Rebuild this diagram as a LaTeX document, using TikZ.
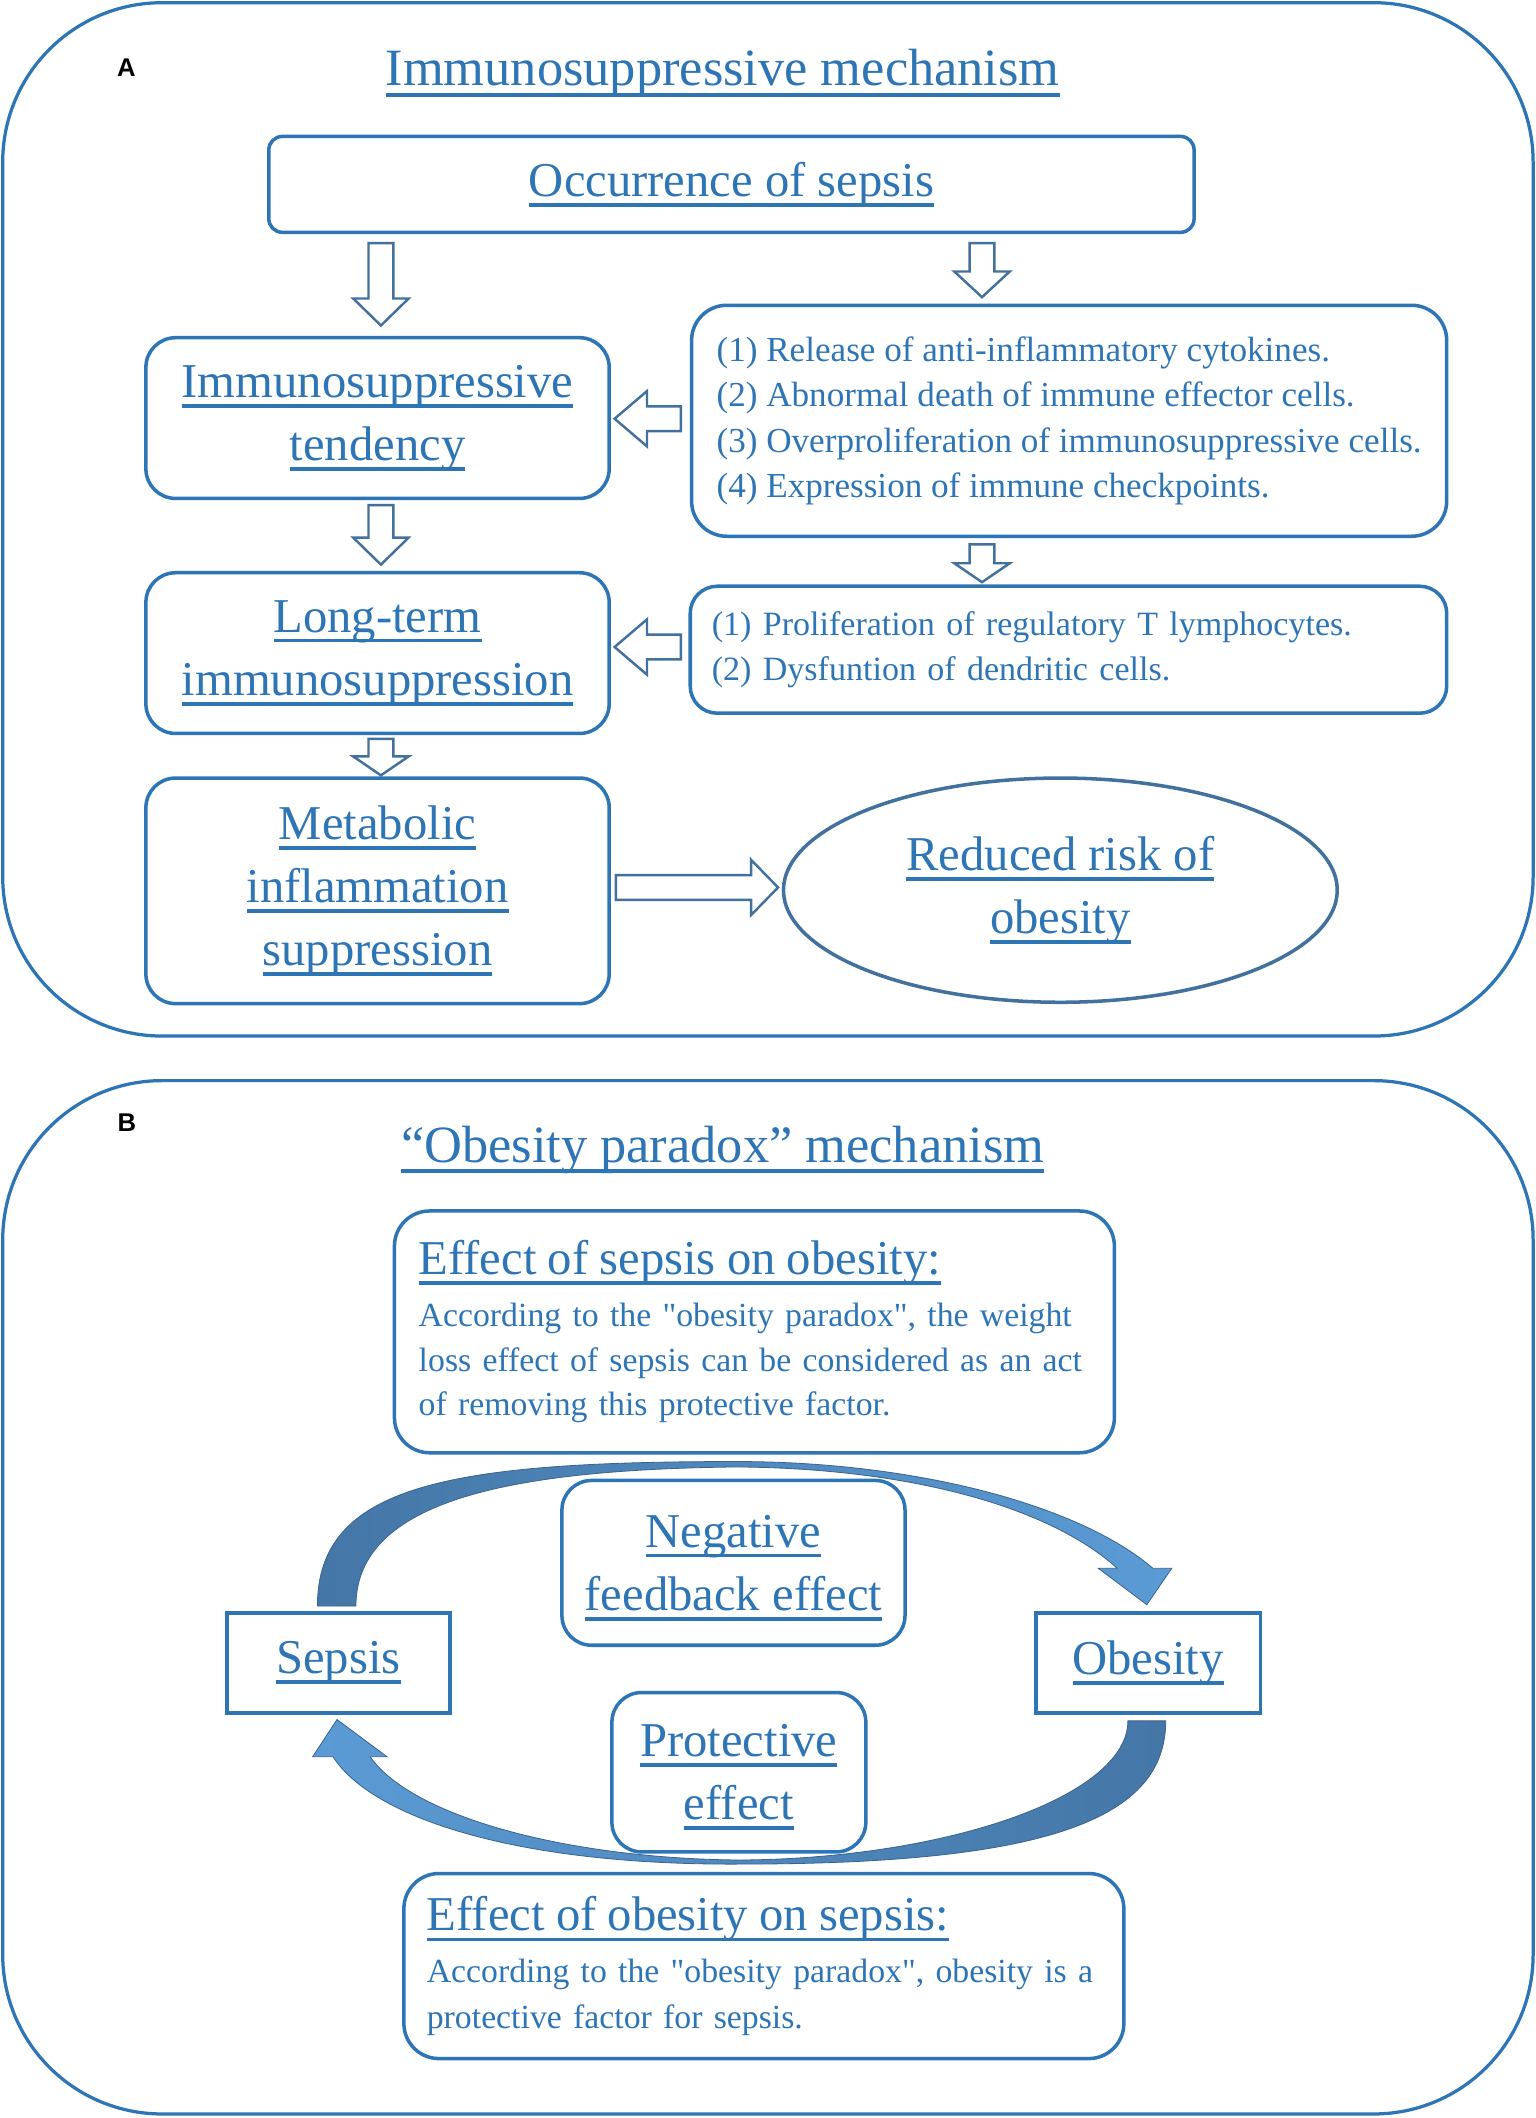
\documentclass[tikz,border=0pt]{standalone}
\usepackage{fontspec}
\setmainfont{Liberation Serif}[Ligatures=TeXOff]
\newfontfamily\labelfont{Liberation Sans}
\usetikzlibrary{calc,shapes.geometric}
\definecolor{tblue}{RGB}{46,117,182}
\definecolor{adark}{RGB}{65,113,156}
\definecolor{arcdark}{RGB}{68,118,166}
\definecolor{arclight}{RGB}{91,155,213}
\newsavebox\ulbox
\newcommand\ulx[1]{\sbox\ulbox{#1}\rlap{\smash{\rule[-0.21em]{\wd\ulbox}{0.075em}}}\usebox\ulbox}
\newcommand\qq{\symbol{34}}
\newcommand\headfont{\fontsize{18}{23.4}\selectfont}
\newcommand\bodyfont{\fontsize{13}{16.8}\selectfont}
\newcommand\titlefont{\fontsize{19.4}{24}\selectfont}
\newcommand\arrsh{4.6pt}
\newcommand\arrhh{10.25pt}
\newcommand\arrdown[3]{\draw[barrow] ($(#1)+(-\arrsh,0)$) -- ($(#2)+(-\arrsh,#3)$) -- ($(#2)+(-\arrhh,#3)$) -- (#2) -- ($(#2)+(\arrhh,#3)$) -- ($(#2)+(\arrsh,#3)$) -- ($(#1)+(\arrsh,0)$) -- cycle;}
\newcommand\arrhoriz[3]{\draw[barrow] ($(#1)+(0,\arrsh)$) -- ($(#2)+(#3,\arrsh)$) -- ($(#2)+(#3,\arrhh)$) -- (#2) -- ($(#2)+(#3,-\arrhh)$) -- ($(#2)+(#3,-\arrsh)$) -- ($(#1)+(0,-\arrsh)$) -- cycle;}
\begin{document}
\begin{tikzpicture}[x=0.5pt,y=-0.5pt,
  box/.style={draw=tblue, line width=1.3pt, fill=white, rounded corners=#1, inner sep=0pt, align=center, text=tblue, font=\headfont},
  box/.default=10pt,
  sqbox/.style={draw=tblue, line width=1.3pt, fill=white, inner sep=0pt, align=center, text=tblue, font=\headfont},
  barrow/.style={draw=adark, line width=0.9pt, fill=white, line join=miter},
  panel/.style={draw=tblue, line width=1.2pt, rounded corners=59pt},
  plabel/.style={font=\labelfont\bfseries\fontsize{9.5}{11}\selectfont, text=black, inner sep=0pt},
  ptitle/.style={font=\titlefont, text=tblue, inner sep=0pt},
  arcarrow/.style={draw=arcdark!85!black, line width=0.3pt}
]
\useasboundingbox (0,0) rectangle (1137,1568);
\fill[white] (0,0) rectangle (1137,1568);

% ---------- Panel A ----------
\draw[panel] (2,2) rectangle (1135,767);
\node[plabel] (labA) at (93.5,50) {A};
\node[ptitle] (titA) at (535,54) {\ulx{Immunosuppressive mechanism}};

\node[box=5pt, minimum width=342.5pt, minimum height=35.5pt] (occ) at (541.5,136.5) {\ulx{Occurrence of sepsis}};
\node[box=11pt, minimum width=171.5pt, minimum height=59.5pt] (tend) at (279.5,309.5) {\ulx{Immunosuppressive}\\\ulx{tendency}};
\node[box=13pt, minimum width=279.5pt, minimum height=85.5pt, align=left, font=\bodyfont] (list1) at (791.5,311.5)
  {(1) Release of anti-inflammatory cytokines.\\(2) Abnormal death of immune effector cells.\\(3) Overproliferation of immunosuppressive cells.\\(4) Expression of immune checkpoints.};
\node[box=11pt, minimum width=171.5pt, minimum height=59.5pt] (longt) at (279.5,483.5) {\ulx{Long-term}\\\ulx{immunosuppression}};
\node[box=10pt, minimum width=280pt, minimum height=47pt, text width=264pt, inner xsep=8pt, align=left, font=\fontsize{12.6}{16.6}\selectfont] (list2) at (791,481)
  {\mbox{(1) Proliferation of regulatory T lymphocytes.}\\\mbox{(2) Dysfuntion of dendritic cells.}};
\node[box=11pt, minimum width=171.5pt, minimum height=83.5pt] (metab) at (279.5,659.5) {\ulx{Metabolic}\\\ulx{inflammation}\\\ulx{suppression}};
\node[ellipse, draw=adark, line width=1.3pt, fill=white, inner sep=0pt, align=center, text=tblue, font=\headfont, minimum width=205pt, minimum height=83pt] (reduced) at (785,659) {\ulx{Reduced risk of}\\\ulx{obesity}};

\coordinate (d1a) at (282,180); \coordinate (d1b) at (282,241);
\coordinate (d2a) at (727,180); \coordinate (d2b) at (727,220);
\coordinate (d3a) at (282,374); \coordinate (d3b) at (282,418);
\coordinate (d4a) at (727,403); \coordinate (d4b) at (727,431);
\coordinate (d5a) at (282,547); \coordinate (d5b) at (282,574);
\coordinate (l1a) at (504,310); \coordinate (l1b) at (455,310);
\coordinate (l2a) at (504,479); \coordinate (l2b) at (455,479);
\coordinate (r1a) at (456,657); \coordinate (r1b) at (576,657);
\arrdown{d1a}{d1b}{10pt}
\arrdown{d2a}{d2b}{9.5pt}
\arrdown{d3a}{d3b}{10pt}
\arrdown{d4a}{d4b}{7pt}
\arrdown{d5a}{d5b}{7pt}
\arrhoriz{l1a}{l1b}{12pt}
\arrhoriz{l2a}{l2b}{12pt}
\arrhoriz{r1a}{r1b}{-10pt}

% ---------- Panel B ----------
\draw[panel] (2,800) rectangle (1135,1565);
\node[plabel] (labB) at (94,831) {B};
\node[ptitle] (titB) at (535,851) {\ulx{“Obesity paradox” mechanism}};

% curved arrows
\shadedraw[arcarrow, left color=arcdark, right color=arclight]
  (235,1189) .. controls (235,1100) and (330,1082) .. (545,1082)
  .. controls (680,1082) and (800,1115) .. (853.5,1161)
  -- (867.5,1161) -- (849,1188) -- (813,1161) -- (827,1161)
  .. controls (780,1118) and (680,1087) .. (545,1086)
  .. controls (380,1088) and (263.5,1110) .. (263.5,1189) -- cycle;
\shadedraw[arcarrow, left color=arclight, right color=arcdark]
  (863,1274) .. controls (863,1345) and (780,1380) .. (548,1380)
  .. controls (380,1381) and (275,1345) .. (246.5,1300.5)
  -- (231.5,1300.5) -- (249.5,1273) -- (286.5,1300.5) -- (274,1300.5)
  .. controls (305,1345) and (420,1376) .. (548,1377)
  .. controls (700,1376) and (835,1330) .. (835,1274) -- cycle;

\node[box=13pt, minimum width=266.5pt, minimum height=89.5pt, text width=248.5pt, inner xsep=9pt, align=left, font=\fontsize{12.5}{16.5}\selectfont] (effs) at (558.5,986)
  {{\headfont\ulx{Effect of sepsis on obesity:}}\\[2.8pt]\mbox{According to the \qq obesity paradox\qq, the weight}\\\mbox{loss effect of sepsis can be considered as an act}\\\mbox{of removing this protective factor.}};
\node[box=11pt, minimum width=127pt, minimum height=61pt] (neg) at (543,1157) {\ulx{Negative}\\\ulx{feedback effect}};
\node[sqbox, minimum width=82.5pt, minimum height=37pt] (sepsis) at (250.5,1231) {\ulx{Sepsis}};
\node[sqbox, minimum width=83pt, minimum height=37pt] (obesity) at (850,1231) {\ulx{Obesity}};
\node[box=11pt, minimum width=94pt, minimum height=59pt] (prot) at (547,1312) {\ulx{Protective}\\\ulx{effect}};
\node[box=13pt, minimum width=266.5pt, minimum height=68.5pt, text width=249.5pt, inner xsep=8.5pt, align=left, font=\fontsize{12.5}{17}\selectfont] (effo) at (565.5,1455.5)
  {{\headfont\ulx{Effect of obesity on sepsis:}}\\[2pt]\mbox{According to the \qq obesity paradox\qq, obesity is a}\\\mbox{protective factor for sepsis.}};
\end{tikzpicture}
\end{document}
